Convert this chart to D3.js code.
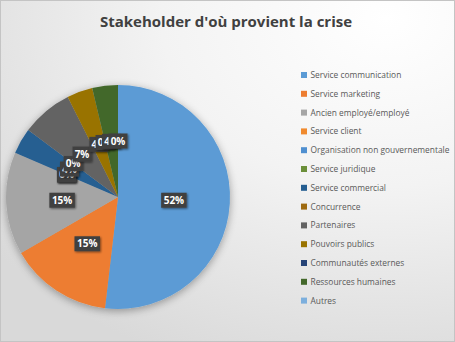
<!DOCTYPE html>
<html><head><meta charset="utf-8">
<script src="https://cdn.jsdelivr.net/npm/d3@7"></script>
<style>body{margin:0;padding:0;overflow:hidden;background:#fff}</style>
</head><body>
<svg id="chart" width="455" height="342"></svg>
<script>
const categories = ["Service communication","Service marketing","Ancien employé/employé","Service client","Organisation non gouvernementale","Service juridique","Service commercial","Concurrence","Partenaires","Pouvoirs publics","Communautés externes","Ressources humaines","Autres"];
const values = [14,4,4,0,0,0,1,0,2,1,0,1,0];
const labels = ["52%","15%","15%","0%","0%","0%","4%","0%","7%","4%","0%","4%","0%"];
const colors = ["#5B9BD5","#ED7D31","#A5A5A5","#F08A2E","#4F8FD0","#6B8F3A","#255E91","#9E6A10","#636363","#997300","#264478","#43682B","#7CAFDD"];
const title = "Stakeholder d'où provient la crise";

const W=455,H=342;
const svg=d3.select("#chart");
const defs=svg.append("defs");
const bg=defs.append("radialGradient").attr("id","bg").attr("cx","0.85").attr("cy","0.05").attr("r","1.1");
bg.append("stop").attr("offset","0").attr("stop-color","#ffffff");
bg.append("stop").attr("offset","0.45").attr("stop-color","#f3f3f3");
bg.append("stop").attr("offset","1").attr("stop-color","#d9d9d9");
const sh=defs.append("filter").attr("id","sh").attr("x","-20%").attr("y","-20%").attr("width","140%").attr("height","140%");
sh.append("feGaussianBlur").attr("in","SourceAlpha").attr("stdDeviation","4");
sh.append("feOffset").attr("dx","0").attr("dy","2").attr("result","b");
sh.append("feComponentTransfer").append("feFuncA").attr("type","linear").attr("slope","0.35");
const m=sh.append("feMerge");m.append("feMergeNode");m.append("feMergeNode").attr("in","SourceGraphic");
const sh2=defs.append("filter").attr("id","sh2").attr("x","-30%").attr("y","-30%").attr("width","160%").attr("height","160%");
sh2.append("feGaussianBlur").attr("in","SourceAlpha").attr("stdDeviation","1");
sh2.append("feOffset").attr("dx","1").attr("dy","1");
sh2.append("feComponentTransfer").append("feFuncA").attr("type","linear").attr("slope","0.5");
const m2=sh2.append("feMerge");m2.append("feMergeNode");m2.append("feMergeNode").attr("in","SourceGraphic");

svg.append("rect").attr("x",0.5).attr("y",0.5).attr("width",W-1).attr("height",H-1).attr("fill","url(#bg)").attr("stroke","#c4c4c4");

svg.append("text").attr("x",226).attr("y",27).attr("text-anchor","middle")
  .attr("font-family","'Open Sans',sans-serif").attr("font-weight","bold").attr("font-size",15)
  .attr("fill","#404040").text(title);

const cx=118,cy=197,R=112;
const pie=d3.pie().sort(null).value(d=>d)(values);
const arc=d3.arc().innerRadius(0).outerRadius(R);
const g=svg.append("g").attr("transform",`translate(${cx},${cy})`);
const gp=g.append("g").attr("filter","url(#sh)");
gp.selectAll("path").data(pie).join("path").attr("d",arc).attr("fill",(d,i)=>colors[i]);

const lArc=d3.arc().innerRadius(R*0.5).outerRadius(R*0.5);
const lg=g.append("g");
pie.forEach((d,i)=>{
  const [x,y]=lArc.centroid({startAngle:d.startAngle,endAngle:d.endAngle});
  const t=lg.append("g").attr("transform",`translate(${x},${y})`);
  const w=labels[i].length*6.5+6;
  t.append("rect").attr("x",-w/2).attr("y",-7.5).attr("width",w).attr("height",15).attr("fill","#404040").attr("filter","url(#sh2)");
  t.append("text").attr("text-anchor","middle").attr("dy","0.36em")
   .attr("font-family","'Open Sans',sans-serif").attr("font-weight","bold").attr("font-size",10)
   .attr("fill","#fff").text(labels[i]);
});

const leg=svg.append("g");
categories.forEach((c,i)=>{
  const y=75+i*18.8;
  leg.append("rect").attr("x",301).attr("y",y-3).attr("width",6).attr("height",6).attr("fill",colors[i]);
  leg.append("text").attr("x",310.5).attr("y",y).attr("dy","0.35em")
    .attr("font-family","'Open Sans',sans-serif").attr("font-size",8.4).attr("fill","#595959").text(c);
});
</script>
</body></html>
